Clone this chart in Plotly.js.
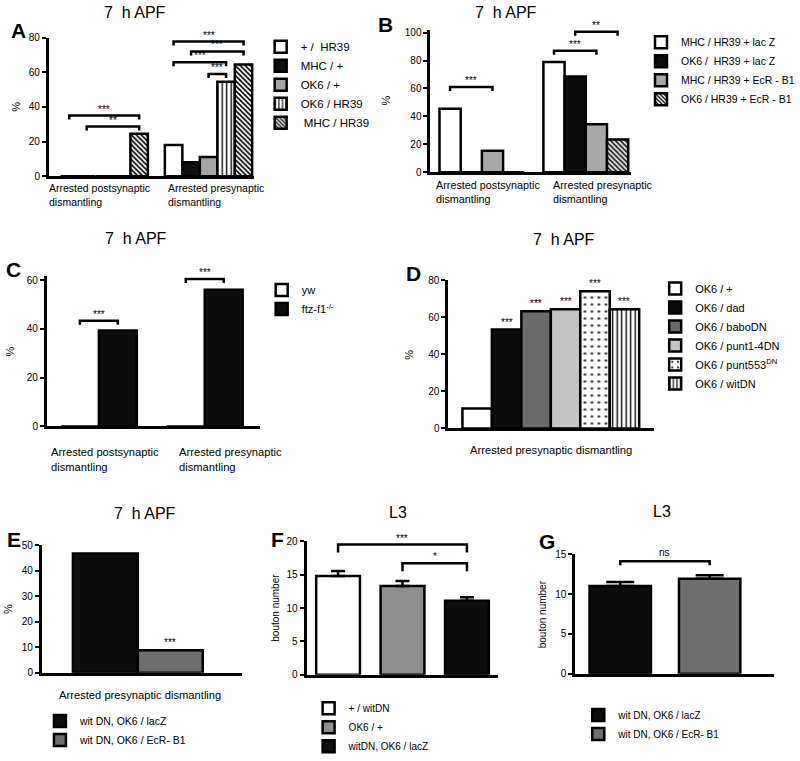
<!DOCTYPE html>
<html><head><meta charset="utf-8">
<script src="https://cdn.plot.ly/plotly-3.0.1.min.js"></script>
<style>html,body{margin:0;padding:0;background:#fff}#chart{width:800px;height:761px}</style>
</head><body><div id="chart"></div>
<script>
// ================= DATA =================
// Panel A (7 h APF)
const catsA = ["Arrested postsynaptic<br>dismantling", "Arrested presynaptic<br>dismantling"];
const seriesA = ["+ /\u00a0 HR39", "MHC / +", "OK6 / +", "OK6 / HR39", "\u00a0MHC / HR39"];
const A_postsynaptic = [0, 0, 0, 0, 24.5];
const A_presynaptic = [18, 8, 11, 54.5, 64.5];
const sigA = [[0, 0, 4, 35, "***"], [0, 1, 4, 28.6, "**"], [1, 0, 4, 77.7, "***"], [1, 1, 4, 72, "***"], [1, 0, 3, 65.7, "***"], [1, 2, 3, 59, "***"]];
const ticksA = [0, 20, 40, 60, 80];

// Panel B (7 h APF)
const catsB = ["Arrested postsynaptic<br>dismantling", "Arrested presynaptic<br>dismantling"];
const seriesB = ["MHC / HR39 + lac Z", "OK6 /\u00a0 HR39 + lac Z", "MHC / HR39 + EcR - B1", "OK6 / HR39 + EcR - B1"];
const B_postsynaptic = [45.4, 0, 15.4, 0];
const B_presynaptic = [79, 68.6, 34.3, 23.4];
const sigB = [[0, 0, 2, 61, "***"], [1, 0, 2, 87, "***"], [1, 1, 3, 100.7, "**"]];
const ticksB = [0, 20, 40, 60, 80, 100];

// Panel C (7 h APF)
const catsC = ["Arrested postsynaptic<br>dismantling", "Arrested presynaptic<br>dismantling"];
const seriesC = ["yw", "ftz-f1<sup>-/-</sup>"];
const C_postsynaptic = [0, 39.3];
const C_presynaptic = [0, 56];
const sigC = [[0, 0, 1, 43.3, "***"], [1, 0, 1, 60.4, "***"]];
const ticksC = [0, 20, 40, 60];

// Panel D (7 h APF)
const catsD = ["Arrested presynaptic dismantling"];
const seriesD = ["OK6 / +", "OK6 / dad", "OK6 / baboDN", "OK6 / punt1-4DN", "OK6 / punt553<sup>DN</sup>", "OK6 / witDN"];
const D_presynaptic = [10.8, 53.3, 63.2, 64.3, 74, 64.2];
const starsD = ["", "***", "***", "***", "***", "***"];
const ticksD = [0, 20, 40, 60, 80];

// Panel E (7 h APF)
const catsE = ["Arrested presynaptic dismantling"];
const seriesE = ["wit DN, OK6 / lacZ", "wit DN, OK6 / EcR- B1"];
const E_presynaptic = [46.8, 8.9];
const starsE = ["", "***"];
const ticksE = [0, 10, 20, 30, 40, 50];

// Panel F (L3)
const seriesF = ["+ / witDN", "OK6 / +", "witDN, OK6 / lacZ"];
const F_boutons = [14.8, 13.3, 11.1];
const F_sem = [0.75, 0.75, 0.5];
const sigF = [[0, 0, 2, 19.5, "***"], [0, 1, 2, 16.7, "*"]];
const ticksF = [0, 5, 10, 15, 20];

// Panel G (L3)
const seriesG = ["wit DN, OK6 / lacZ", "wit DN, OK6 / EcR- B1"];
const G_boutons = [11.0, 11.9];
const G_sem = [0.5, 0.45];
const sigG = [[0, 0, 1, 14.1, "ns"]];
const ticksG = [0, 5, 10, 15];

// ================= STYLES =================
const FONT = "Liberation Sans, Arial, Helvetica, sans-serif";
const BLK = "#0d0d0d";
const hatch = {shape: "\\", bgcolor: "white", fgcolor: "black", size: 3.5, solidity: 0.45};
const vlines = {shape: "|", bgcolor: "white", fgcolor: "black", size: 4.5, solidity: 0.3};
const dots = {shape: ".", bgcolor: "white", fgcolor: "#333", size: 7, solidity: 0.12};
const stylesA = [{c: "white"}, {c: BLK}, {c: "#a4a4a4"}, {c: "white", p: vlines}, {c: "white", p: hatch}];
const stylesB = [{c: "white"}, {c: BLK}, {c: "#a9a9a9"}, {c: "white", p: hatch}];
const stylesC = [{c: "white"}, {c: BLK}];
const stylesD = [{c: "white"}, {c: BLK}, {c: "#6b6b6b"}, {c: "#c4c4c4"}, {c: "white", p: dots}, {c: "white", p: vlines}];
const stylesE = [{c: BLK}, {c: "#6e6e6e"}];
const stylesF = [{c: "white"}, {c: "#8e8e8e"}, {c: BLK}];
const stylesG = [{c: BLK}, {c: "#6e6e6e"}];

const W = 800, H = 761;
const pxX = v => v / W, pxY = v => 1 - v / H;

const data = [], shapes = [], annotations = [];
const layout = {
  width: W, height: H, margin: {l: 0, r: 0, t: 0, b: 0},
  paper_bgcolor: "white", plot_bgcolor: "rgba(0,0,0,0)",
  barmode: "overlay", showlegend: true,
  font: {family: FONT, color: "black", size: 11},
  shapes: shapes, annotations: annotations
};

function panel(p) {
  const n = p.n;
  const sfx = n === 1 ? "" : String(n);
  const xa = "x" + sfx, ya = "y" + sfx, lg = "legend" + sfx;
  const [L, R, B, T] = p.box;
  const ppu = (B - T) / (p.yrange[1] - p.yrange[0]);
  layout["xaxis" + sfx] = {
    domain: [pxX(L), pxX(R)], range: p.xrange, anchor: ya, type: "linear",
    showline: true, linewidth: 3, linecolor: "black", ticks: "", showticklabels: false,
    showgrid: false, zeroline: false, fixedrange: true
  };
  layout["yaxis" + sfx] = {
    domain: [pxY(B), pxY(T)], range: p.yrange, anchor: xa,
    showline: true, linewidth: 3, linecolor: "black", ticks: "outside", ticklen: 4, tickwidth: 2,
    tickcolor: "black", tickvals: p.ticks, ticktext: p.ticks.map(String), tickfont: {size: 10},
    showgrid: false, zeroline: false, fixedrange: true
  };
  layout[lg] = {
    x: pxX(p.leg[0]), y: pxY(p.leg[1]), xanchor: "left", yanchor: "top",
    bgcolor: "rgba(0,0,0,0)", font: {size: p.legFont, family: FONT}, tracegroupgap: 0,
    traceorder: "normal", itemclick: false, itemdoubleclick: false
  };
  const ns = p.series.length, w = p.barW;
  const center = (k, i) => p.single ? i : k - ns * w / 2 + i * w + w / 2;
  p.series.forEach((name, i) => {
    const st = p.styles[i];
    const tr = {
      type: "bar", name: name, xaxis: xa, yaxis: ya, legend: lg,
      width: w, hoverinfo: "skip",
      marker: {color: st.c, line: {color: "black", width: 2.5}}
    };
    if (st.p) tr.marker.pattern = Object.assign({fillmode: "replace"}, st.p);
    if (p.single) {
      tr.x = [i]; tr.y = [p.values[i]]; tr.offset = -w / 2;
      if (p.err) tr.error_y = {type: "data", symmetric: false, array: [p.err[i]], arrayminus: [0],
        color: "black", thickness: 2.5, width: p.capW};
    } else {
      tr.x = p.cats.map((c, k) => k);
      tr.y = p.cats.map((c, k) => p.values[k][i]);
      tr.offset = -ns * w / 2 + i * w;
    }
    data.push(tr);
  });
  // significance brackets
  (p.sig || []).forEach(s => {
    const [k, i1, i2, yv, lab] = s;
    const x1 = center(k, i1), x2 = center(k, i2), d = p.dropPx / ppu;
    shapes.push({type: "path", xref: xa, yref: ya,
      path: `M${x1},${yv - d} L${x1},${yv} L${x2},${yv} L${x2},${yv - d}`,
      line: {color: "black", width: 2.5}});
    annotations.push({xref: xa, yref: ya, x: (x1 + x2) / 2, y: yv, text: lab, showarrow: false,
      xanchor: "center", yanchor: "bottom", yshift: p.starShift, font: {size: 10}});
  });
  // stars above bars
  (p.barStars || []).forEach((lab, i) => {
    if (!lab) return;
    annotations.push({xref: xa, yref: ya, x: center(0, i), y: p.values[0][i], text: lab, showarrow: false,
      xanchor: "center", yanchor: "bottom", yshift: 0, font: {size: 10}});
  });
  // category labels
  (p.cats || []).forEach((c, k) => {
    annotations.push({xref: xa, yref: "paper", x: k, y: pxY(B), xanchor: "center", yanchor: "top",
      yshift: -p.labGap, xshift: (p.labShift || [])[k] || 0,
      text: c, align: "left", showarrow: false, font: {size: p.labFont}});
  });
  // y-axis title (rotated), left of the axis
  annotations.push({xref: "paper", yref: "paper", x: pxX(L - p.ytOff), y: pxY((B + T) / 2),
    xanchor: "center", yanchor: "middle", textangle: -90, text: p.ytitle, showarrow: false,
    font: {size: p.ytitleSize}});
  // panel title and letter
  annotations.push({xref: "paper", yref: "paper", x: pxX(p.title[1]), y: pxY(p.title[2]),
    xanchor: "center", yanchor: "middle", text: p.title[0], showarrow: false, font: {size: 16}});
  annotations.push({xref: "paper", yref: "paper", x: pxX(p.letter[1]), y: pxY(p.letter[2]),
    xanchor: "center", yanchor: "middle", text: "<b>" + p.letter[0] + "</b>", showarrow: false,
    font: {size: 21, family: FONT}});
}

const t7 = "7\u00a0 h APF";

panel({n: 1, cats: catsA, series: seriesA, values: [A_postsynaptic, A_presynaptic], styles: stylesA,
  box: [49, 254, 178, 38], xrange: [-0.529, 1.432], yrange: [0, 80], ticks: ticksA, barW: 0.1675,
  ytitle: "%", ytitleSize: 11, ytOff: 33, leg: [261, 32.5], legFont: 11.5,
  sig: sigA, dropPx: 4, starShift: -1, labGap: 4, labFont: 10.5, labShift: [-5, 7],
  title: [t7, 135, 12.5], letter: ["A", 19, 31]});

panel({n: 2, cats: catsB, series: seriesB, values: [B_postsynaptic, B_presynaptic], styles: stylesB,
  box: [431, 632, 174, 30.2], xrange: [-0.495, 1.437], yrange: [0, 102], ticks: ticksB, barW: 0.204,
  ytitle: "%", ytitleSize: 11, ytOff: 44, leg: [642, 28], legFont: 10.5,
  sig: sigB, dropPx: 4, starShift: -1, labGap: 5, labFont: 10.8, labShift: [6, 17],
  title: [t7, 507, 12.5], letter: ["B", 386, 25]});

panel({n: 3, cats: catsC, series: seriesC, values: [C_postsynaptic, C_presynaptic], styles: stylesC,
  box: [47, 260, 431, 279.3], xrange: [-0.4906, 1.519], yrange: [0, 61.5], ticks: ticksC, barW: 0.3585,
  ytitle: "%", ytitleSize: 11, ytOff: 37, leg: [262, 278.5], legFont: 11,
  sig: sigC, dropPx: 4, starShift: -1, labGap: 18, labFont: 11.2, labShift: [6, 26],
  title: [t7, 136, 241], letter: ["C", 14, 272]});

panel({n: 4, cats: catsD, series: seriesD, values: [D_presynaptic], styles: stylesD,
  box: [449, 655, 433, 283], xrange: [-0.4976, 0.5024], yrange: [0, 80], ticks: ticksD, barW: 0.1432,
  ytitle: "%", ytitleSize: 11, ytOff: 39, leg: [656, 277], legFont: 11,
  barStars: starsD, labGap: 14, labFont: 11.2, labShift: [0],
  title: [t7, 565, 242.5], letter: ["D", 414, 276]});

panel({n: 5, cats: catsE, series: seriesE, values: [E_presynaptic], styles: stylesE,
  box: [42, 242, 680, 551], xrange: [-0.48, 0.52], yrange: [0, 50], ticks: ticksE, barW: 0.325,
  ytitle: "%", ytitleSize: 11, ytOff: 34, leg: [40, 714], legFont: 10.5,
  barStars: starsE, labGap: 14, labFont: 11.2, labShift: [2],
  title: [t7, 145, 519], letter: ["E", 14, 545]});

panel({n: 6, single: true, series: seriesF, values: F_boutons, err: F_sem, capW: 7, styles: stylesF,
  box: [307, 499, 682, 547], xrange: [-0.488, 2.488], yrange: [0, 20], ticks: ticksF, barW: 0.68,
  ytitle: "bouton number", ytitleSize: 10, ytOff: 32, leg: [309, 701], legFont: 10,
  sig: sigF, dropPx: 8, starShift: -1, labGap: 0, labFont: 11,
  title: ["L3", 398.5, 517.5], letter: ["F", 278, 545]});

panel({n: 7, single: true, series: seriesG, values: G_boutons, err: G_sem, capW: 14, styles: stylesG,
  box: [576, 775, 681, 560], xrange: [-0.503, 1.72], yrange: [0, 15], ticks: ticksG, barW: 0.687,
  ytitle: "bouton number", ytitleSize: 10, ytOff: 32, leg: [579, 708], legFont: 10,
  sig: sigG, dropPx: 4, starShift: 1, labGap: 0, labFont: 11,
  title: ["L3", 662.5, 517], letter: ["G", 548, 547]});

Plotly.newPlot("chart", data, layout, {staticPlot: true, displayModeBar: false});
</script>
</body></html>
